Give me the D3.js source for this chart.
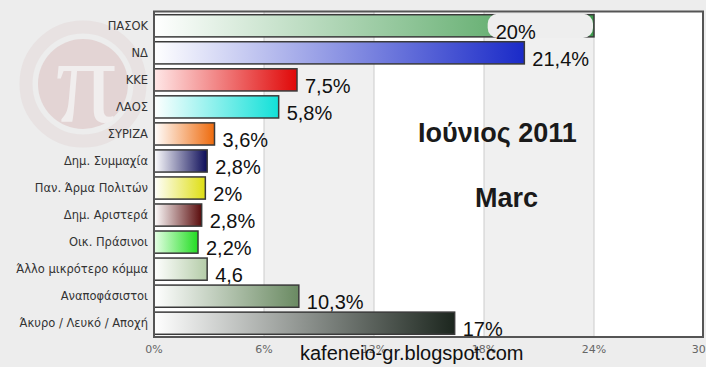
<!DOCTYPE html>
<html>
<head>
<meta charset="utf-8">
<script src="https://cdn.jsdelivr.net/npm/d3@7"></script>
<style>
  html, body { margin: 0; padding: 0; background: #ededed; }
  svg { display: block; }
</style>
</head>
<body>
<svg id="chart" width="706" height="367"></svg>
<script>
// party names, top to bottom
var categories = ["ΠΑΣΟΚ", "ΝΔ", "ΚΚΕ", "ΛΑΟΣ", "ΣΥΡΙΖΑ", "Δημ. Συμμαχία", "Παν. Άρμα Πολιτών",
    "Δημ. Αριστερά", "Οικ. Πράσινοι", "Άλλο μικρότερο κόμμα", "Αναποφάσιστοι", "Άκυρο / Λευκό / Αποχή"];

// bar lengths as drawn (percent)
var values = [24, 20.2, 7.8, 6.8, 3.3, 2.9, 2.8, 2.6, 2.4, 2.9, 7.9, 16.4];

// the labels written next to the bars
var labels = ["20%", "21,4%", "7,5%", "5,8%", "3,6%", "2,8%", "2%", "2,8%", "2,2%", "4,6", "10,3%", "17%"];

// gradient end colours
var colors = ["#3d9a4c", "#1a2ac8", "#e00808", "#12e0d8", "#ee6a0c", "#0c0c58", "#dede12",
    "#5a0c0c", "#22dd22", "#b4cca8", "#6a8a62", "#1c261e"];
var startColors = ["#ffffff", "#ffffff", "#ffe8e8", "#ffffff", "#ffffff", "#ffffff", "#ffffff",
    "#ffffff", "#e8ffe8", "#ffffff", "#ffffff", "#ffffff"];

var ticks = [0, 6, 12, 18, 24, 30];

// the PASOK bar is painted over from here on
var pasokCover = 18.2;

var svg = d3.select("#chart");

var x = d3.scaleLinear().domain([0, 30]).range([154, 704]);
var y = d3.scaleBand().domain(categories).range([12, 337]).paddingInner(0.18).paddingOuter(0.1);

// watermark logo
var logo = svg.append("g").attr("opacity", 0.5);
logo.append("circle").attr("cx", 83).attr("cy", 84).attr("r", 57)
    .attr("fill", "none").attr("stroke", "#e4d8d8").attr("stroke-width", 13);
logo.append("circle").attr("cx", 83).attr("cy", 84).attr("r", 45).attr("fill", "#dbbcbc");
logo.append("text").attr("x", 86).attr("y", 122).attr("text-anchor", "middle")
    .style("font-family", "Liberation Serif").style("font-size", "120px")
    .attr("fill", "#f5f0f0").text("π");

var defs = svg.append("defs");
categories.forEach(function (c, i) {
    var g = defs.append("linearGradient").attr("id", "grad" + i)
        .attr("x1", "0%").attr("x2", "100%").attr("y1", "0%").attr("y2", "0%");
    g.append("stop").attr("offset", "0%").attr("stop-color", startColors[i]);
    g.append("stop").attr("offset", "100%").attr("stop-color", colors[i]);
});

// plot background bands
var bands = [[0, 6, "#ffffff"], [6, 12, "#f0f0f0"], [12, 18, "#ffffff"], [18, 24, "#f0f0f0"], [24, 30, "#ffffff"]];
svg.selectAll("rect.band")
    .data(bands)
    .enter()
    .append("rect")
    .attr("class", "band")
    .attr("x", function (d) { return x(d[0]); })
    .attr("width", function (d) { return x(d[1]) - x(d[0]); })
    .attr("y", 12)
    .attr("height", 325)
    .attr("fill", function (d) { return d[2]; });

svg.selectAll("line.grid")
    .data(ticks.slice(1, -1))
    .enter()
    .append("line")
    .attr("class", "grid")
    .attr("x1", function (d) { return x(d); })
    .attr("x2", function (d) { return x(d); })
    .attr("y1", 12)
    .attr("y2", 337)
    .attr("stroke", "#cccccc");

// bars
svg.selectAll("rect.bar")
    .data(values)
    .enter()
    .append("rect")
    .attr("class", "bar")
    .attr("x", x(0))
    .attr("y", function (d, i) { return y(categories[i]); })
    .attr("width", function (d) { return x(d) - x(0); })
    .attr("height", y.bandwidth())
    .attr("fill", function (d, i) { return "url(#grad" + i + ")"; })
    .attr("stroke", "#3a3a3a")
    .attr("stroke-width", 1.5);

// the patch on the PASOK bar
svg.append("rect")
    .attr("x", x(pasokCover))
    .attr("y", y(categories[0]) - 1)
    .attr("width", x(values[0]) - x(pasokCover) - 1)
    .attr("height", y.bandwidth() + 2)
    .attr("rx", 10)
    .attr("fill", "#eeeeee");

// frame
svg.append("rect")
    .attr("x", x(0)).attr("y", 11.5)
    .attr("width", x(30) - x(0) - 1).attr("height", 325.5)
    .attr("fill", "none").attr("stroke", "#555555").attr("stroke-width", 2);

// category names
svg.selectAll("text.cat")
    .data(categories)
    .enter()
    .append("text")
    .attr("class", "cat")
    .attr("x", 148)
    .attr("y", function (d) { return y(d) + y.bandwidth() / 2 + 4; })
    .attr("text-anchor", "end")
    .style("font-family", "DejaVu Sans")
    .style("font-size", "11.5px")
    .attr("fill", "#333333")
    .text(function (d) { return d; });

// x tick labels
svg.selectAll("text.tick")
    .data(ticks)
    .enter()
    .append("text")
    .attr("class", "tick")
    .attr("x", function (d) { return x(d); })
    .attr("y", 353)
    .attr("text-anchor", "middle")
    .style("font-family", "DejaVu Sans")
    .style("font-size", "11px")
    .attr("fill", "#666666")
    .text(function (d) { return d + "%"; });

// value labels
svg.selectAll("text.val")
    .data(labels)
    .enter()
    .append("text")
    .attr("class", "val")
    .attr("x", function (d, i) { return x(i === 0 ? pasokCover : values[i]) + 8; })
    .attr("y", function (d, i) { return y(categories[i]) + y.bandwidth() / 2 + 13; })
    .style("font-family", "Liberation Sans")
    .style("font-size", "20px")
    .attr("fill", "#111111")
    .text(function (d) { return d; });

// overlaid texts
svg.append("text").attr("x", 418).attr("y", 142)
    .style("font-family", "Liberation Sans").style("font-weight", "bold").style("font-size", "27px")
    .attr("fill", "#1a1a1a").text("Ιούνιος 2011");
svg.append("text").attr("x", 475).attr("y", 207)
    .style("font-family", "Liberation Sans").style("font-weight", "bold").style("font-size", "27px")
    .attr("fill", "#1a1a1a").text("Marc");
svg.append("text").attr("x", 300).attr("y", 360)
    .style("font-family", "Liberation Sans").style("font-size", "20px")
    .attr("fill", "#111111").text("kafeneio-gr.blogspot.com");
</script>
</body>
</html>
